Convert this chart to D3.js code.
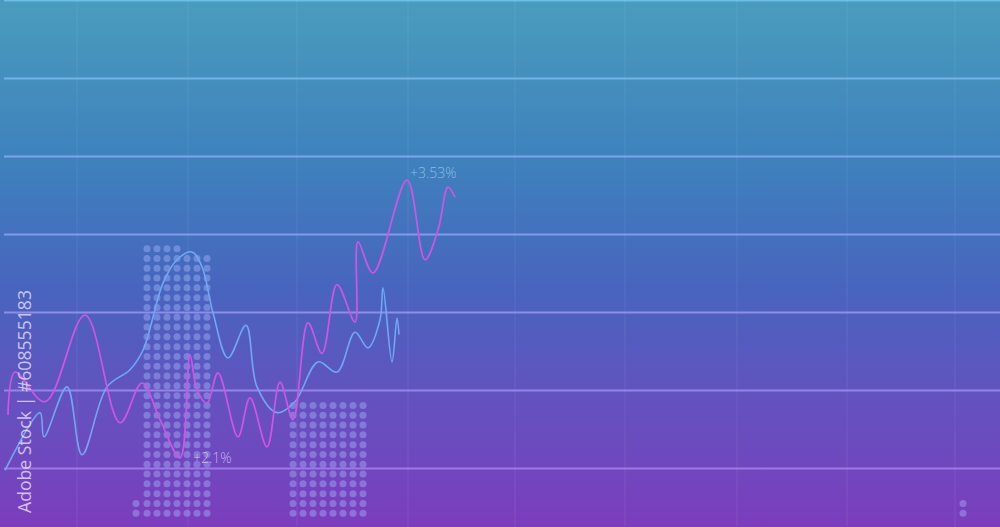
<!DOCTYPE html>
<html>
<head>
<meta charset="utf-8">
<script src="https://cdn.jsdelivr.net/npm/d3@7"></script>
<style>
  html, body { margin: 0; padding: 0; background: #5a60bf; overflow: hidden; }
  svg { display: block; }
</style>
</head>
<body>
<svg id="chart" width="1000" height="527"></svg>
<script>
// ---------- data ----------
const gridValues = [0, 1, 2, 3, 4, 5, 6];
const vGridX = [7.7, 18.8, 29.7, 40.8, 51.5, 62.5, 73.7, 84.7, 95.5];

const pinkX = [0.8, 1.5, 4.5, 8.5, 12.0, 14.2, 16.0, 18.0, 19.0, 19.7, 20.7, 21.8, 23.8, 25.0, 26.7, 28.0, 29.3, 30.8, 32.2, 33.7, 35.5, 35.8, 37.3, 40.7, 42.5, 43.8, 44.8, 45.5];
const pinkY = [0.68, 1.23, 0.85, 1.96, 0.58, 1.09, 0.62, 0.13, 1.45, 1.00, 0.83, 1.22, 0.40, 0.90, 0.27, 1.10, 0.62, 1.86, 1.47, 2.35, 1.87, 2.90, 2.50, 3.69, 2.67, 3.05, 3.60, 3.47];

const blueX = [0.5, 4.0, 4.4, 6.7, 8.2, 10.7, 13.0, 14.3, 16.3, 17.7, 19.2, 20.2, 21.3, 22.8, 24.6, 25.7, 27.7, 29.5, 31.8, 33.7, 35.5, 36.8, 38.0, 38.3, 39.2, 39.7, 39.9];
const blueY = [-0.03, 0.71, 0.40, 1.04, 0.17, 1.04, 1.26, 1.51, 2.37, 2.67, 2.77, 2.58, 1.99, 1.41, 1.83, 1.04, 0.71, 0.85, 1.36, 1.23, 1.74, 1.54, 1.90, 2.31, 1.36, 1.92, 1.71];

// dotted bars: first column, number of columns, top value
const barStart = [13.6, 14.7, 18.7, 29.3, 96.3];
const barCols  = [1, 4, 3, 8, 1];
const barTop   = [-0.45, 2.90, 2.78, 0.80, -0.45];
const barBottom = -0.58;

const labels = ["+3.53%", "+2.1%"];
const labelAt = [23, 7];            // index into pink series
const stockText = "Adobe Stock | #608555183";

// ---------- setup ----------
const W = 1000, H = 527;
const svg = d3.select("#chart");
const x = d3.scaleLinear().domain([0, 100]).range([0, W]);
const y = d3.scaleLinear().domain([0, 6]).range([468, 0]);

const defs = svg.append("defs");
const bg = defs.append("linearGradient").attr("id", "bg")
  .attr("x1", 0).attr("y1", 0).attr("x2", 0).attr("y2", 1);
[[0, "#4a9cbd"], [0.3, "#3e82bd"], [0.55, "#4864be"], [0.78, "#6650bf"], [1, "#7c3dbd"]]
  .forEach(([o, c]) => bg.append("stop").attr("offset", o).attr("stop-color", c));
defs.append("filter").attr("id", "soft")
  .append("feGaussianBlur").attr("stdDeviation", 0.6);

svg.append("rect").attr("width", W).attr("height", H).attr("fill", "url(#bg)");

// faint vertical grid
svg.append("g").selectAll("line").data(vGridX).join("line")
  .attr("x1", d => x(d)).attr("x2", d => x(d))
  .attr("y1", 0).attr("y2", H)
  .attr("stroke", "#ffffff").attr("stroke-opacity", 0.04).attr("stroke-width", 2);

// horizontal grid via axis
const lineColor = d3.scaleLinear().domain([6, 0]).range(["#72c4ee", "#a882f0"]);
const yAxis = d3.axisLeft(y).tickValues(gridValues).tickSize(-(W - 4)).tickFormat("");
const gAxis = svg.append("g").attr("transform", "translate(4,0)").call(yAxis);
gAxis.select(".domain").remove();
gAxis.selectAll(".tick line")
  .attr("stroke", d => lineColor(d)).attr("stroke-width", 2).attr("stroke-opacity", 0.85);

// dotted bars
const rowStep = 9.8;
const dots = [];
barStart.forEach((bx, i) => {
  const yb = y(barBottom), yt = y(barTop[i]);
  for (let c = 0; c < barCols[i]; c++) {
    for (let py = yb; py >= yt - 2; py -= rowStep) {
      dots.push({ cx: x(bx + c), cy: py });
    }
  }
});
svg.append("g").attr("filter", "url(#soft)").selectAll("circle").data(dots).join("circle")
  .attr("cx", d => d.cx).attr("cy", d => d.cy).attr("r", 3.5)
  .attr("fill", "#a6b8ff").attr("fill-opacity", 0.42);

// lines
const line = d3.line().x(d => x(d[0])).y(d => y(d[1])).curve(d3.curveCatmullRom.alpha(0.5));
const pink = pinkX.map((v, i) => [v, pinkY[i]]);
const blue = blueX.map((v, i) => [v, blueY[i]]);

svg.append("path").datum(blue).attr("d", line)
  .attr("fill", "none").attr("stroke", "#70a8f4").attr("stroke-width", 1.6);
svg.append("path").datum(pink).attr("d", line)
  .attr("fill", "none").attr("stroke", "#cf55e4").attr("stroke-width", 1.7);

// labels
svg.append("text")
  .attr("x", x(pink[labelAt[0]][0]) + 3).attr("y", y(pink[labelAt[0]][1]) - 2)
  .attr("font-family", "Open Sans, sans-serif").attr("font-weight", 300)
  .attr("font-size", 14).attr("fill", "#9cc8f0").attr("fill-opacity", 0.85)
  .text(labels[0]);
svg.append("text")
  .attr("x", x(pink[labelAt[1]][0]) + 13).attr("y", y(pink[labelAt[1]][1]) + 5)
  .attr("font-family", "Open Sans, sans-serif").attr("font-weight", 300)
  .attr("font-size", 14).attr("fill", "#d8c8f4").attr("fill-opacity", 0.85)
  .text(labels[1]);

// vertical stock id
svg.append("text")
  .attr("transform", "translate(31,513) rotate(-90)")
  .attr("font-family", "Open Sans, sans-serif").attr("font-weight", 400)
  .attr("font-size", 18).attr("fill", "#ece4ff").attr("fill-opacity", 0.78)
  .attr("textLength", 223).attr("lengthAdjust", "spacingAndGlyphs")
  .text(stockText);
</script>
</body>
</html>
